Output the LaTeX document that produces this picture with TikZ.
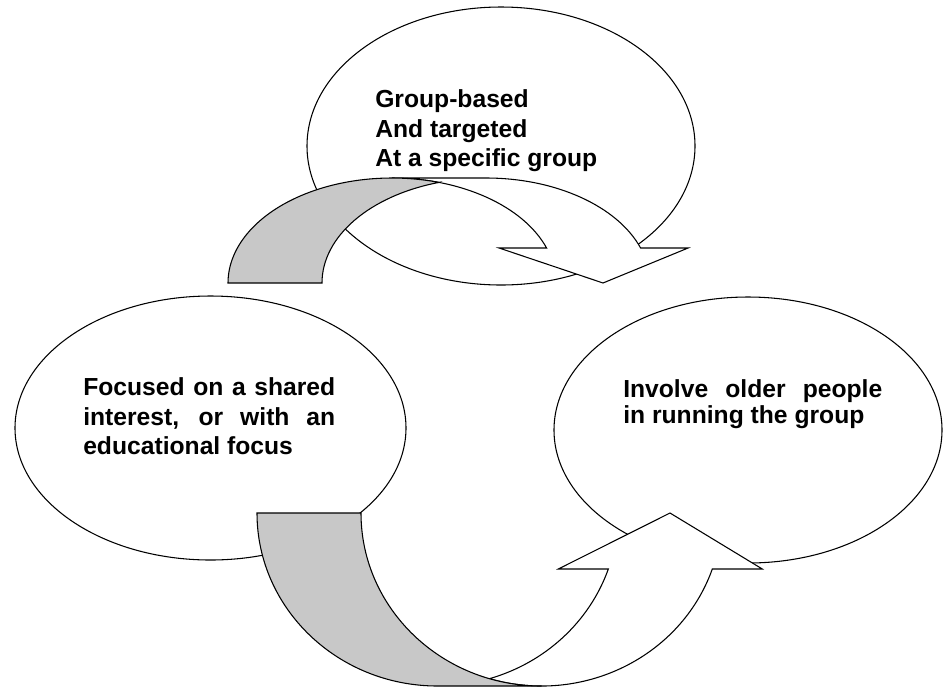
\documentclass[tikz,border=0pt]{standalone}
\usepackage{fontspec}
\setmainfont{Liberation Sans}
\usetikzlibrary{shapes.geometric}
\definecolor{tailgray}{RGB}{200,200,200}
\begin{document}
\begin{tikzpicture}[x=0.75pt,y=-0.75pt,
  bubble/.style={draw=black, fill=white, ellipse, line width=0.8pt, inner sep=0pt},
  txt/.style={anchor=base west, inner sep=0pt, font=\fontsize{18.5}{22}\selectfont\bfseries},
  band/.style={draw=black, line width=0.8pt, line join=miter},
  frontband/.style={band, fill=white},
  backband/.style={band, fill=tailgray}]
\useasboundingbox (0,0) rectangle (943,687);
% top bubble
\node[bubble, minimum width=291pt, minimum height=208.5pt] (top) at (501,146) {};
\node[txt] (t1) at (375,107) {Group-based};
\node[txt] (t2) at (375,137) {And targeted};
\node[txt] (t3) at (375,166) {At a specific group};
% top curved arrow
\draw[frontband] (603,283) -- (499.1,248) -- (546.6,248)
   arc[start angle=-19.47, end angle=-90, x radius=164, y radius=105]
   -- (486,178)
   arc[start angle=-90, end angle=-19.47, x radius=164, y radius=105]
   -- (688.1,248) -- cycle;
\draw[backband] (439,182.4)
   arc[start angle=-106.65, end angle=-180, x radius=164, y radius=105]
   -- (228,283)
   arc[start angle=180, end angle=286.65, x radius=164, y radius=105] -- cycle;
% left and right bubbles
\node[bubble, minimum width=293.25pt, minimum height=198pt] (left) at (210.5,428) {};
\node[txt] (l1) at (83,395) {\makebox[189pt][s]{Focused on a shared}};
\node[txt] (l2) at (83,425) {\makebox[189pt][s]{interest, or with an}};
\node[txt] (l3) at (83,454) {educational focus};
\node[bubble, minimum width=291pt, minimum height=199.5pt] (right) at (748,430) {};
\node[txt] (r1) at (623,397) {\makebox[194.25pt][s]{Involve older people}};
\node[txt] (r2) at (623,423) {in running the group};
% bottom curved arrow
\draw[frontband] (670,513) -- (762.3,569) -- (712.3,569)
   arc[start angle=18.89, end angle=106.74, x radius=180.5, y radius=173]
   arc[start angle=73.26, end angle=18.89, x radius=180.5, y radius=173]
   -- (558.3,569) -- cycle;
\draw[backband] (257,513) -- (361,513)
   arc[start angle=180, end angle=90, x radius=180.5, y radius=173]
   -- (437.5,686)
   arc[start angle=90, end angle=180, x radius=180.5, y radius=173] -- cycle;
\end{tikzpicture}
\end{document}
